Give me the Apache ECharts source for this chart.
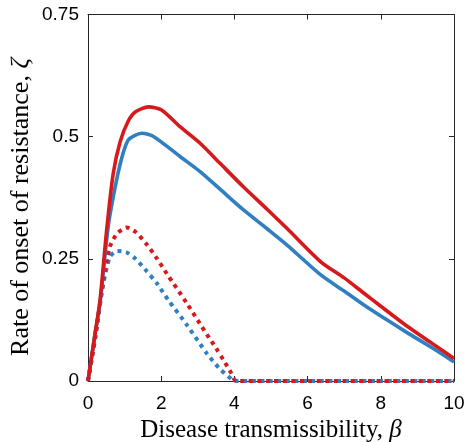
<!DOCTYPE html>
<html>
<head>
<meta charset="utf-8">
<script src="https://cdn.jsdelivr.net/npm/echarts@6/dist/echarts.min.js"></script>
<style>
	html, body {margin: 0; padding: 0; background: #fff;}
	#chart {width: 468px; height: 442px;}
</style>
</head>
<body>
<div id="chart"></div>
<script>
// values
var redSolidX = [0, 0.2, 0.33, 0.51, 0.69, 0.88, 1.1, 1.3, 1.65, 2.0, 2.52, 3.07, 3.6, 4.25, 4.9, 5.44, 6.36, 7.0, 7.55, 8.0, 8.74, 9.4, 10];
var redSolidY = [0, 0.1, 0.166, 0.309, 0.425, 0.49, 0.532, 0.551, 0.561, 0.555, 0.52, 0.486, 0.446, 0.397, 0.351, 0.312, 0.244, 0.211, 0.179, 0.153, 0.111, 0.077, 0.046];

var blueSolidX = [0, 0.2, 0.33, 0.51, 0.6, 0.86, 1.1, 1.47, 1.8, 2.52, 3.07, 3.6, 4.25, 4.9, 5.44, 6.36, 7.0, 7.55, 8.0, 8.74, 9.4, 10];
var blueSolidY = [0, 0.1, 0.16, 0.29, 0.34, 0.438, 0.493, 0.507, 0.5, 0.459, 0.428, 0.393, 0.35, 0.311, 0.278, 0.217, 0.184, 0.155, 0.133, 0.098, 0.068, 0.039];

var redDotX = [0, 0.2, 0.42, 0.6, 0.8, 1.06, 1.3, 1.6, 1.88, 2.15, 2.7, 3.0, 3.25, 3.5, 3.7, 3.9, 4.05, 5, 6, 7, 8, 9, 10];
var redDotY = [0, 0.09, 0.207, 0.275, 0.302, 0.314, 0.305, 0.28, 0.251, 0.22, 0.159, 0.124, 0.095, 0.067, 0.043, 0.018, 0, 0, 0, 0, 0, 0, 0];

var blueDotX = [0, 0.2, 0.42, 0.6, 0.8, 1.06, 1.3, 1.6, 1.88, 2.2, 2.7, 3.25, 3.6, 3.95, 4.0, 5, 6, 7, 8, 9, 10];
var blueDotY = [0, 0.09, 0.2, 0.254, 0.266, 0.263, 0.25, 0.225, 0.2, 0.165, 0.115, 0.056, 0.025, 0.002, 0, 0, 0, 0, 0, 0, 0];

var yTickLabels = {'0': '0', '0.25': '0.25', '0.5': '0.5', '0.75': '0.75'};

var RED = '#d7191c';
var BLUE = '#2f7fc1';
var AXIS = '#262626';

function pairs(xs, ys){
	var out = [];
	for (var i=0; i<xs.length; i++){
		out.push([xs[i], ys[i]]);
	}
	return out;
}

function line(xs, ys, color, dotted){
	return {
		type: 'line',
		data: pairs(xs, ys),
		showSymbol: false,
		smooth: 0.25,
		silent: true,
		lineStyle: {
			color: color,
			width: dotted ? 4 : 3.6,
			type: dotted ? [4, 4.5] : 'solid',
			cap: 'butt'
		}
	};
}

var chart = echarts.init(document.getElementById('chart'), null, {renderer: 'canvas'});

var tickStyle = {show: true, inside: true, length: 5, lineStyle: {color: AXIS, width: 1}};
var lineStyleAxis = {show: true, onZero: false, lineStyle: {color: AXIS, width: 1}};
function titleRich(size){
	return {
		a: {fontFamily: 'Liberation Serif', fontSize: size, fill: '#000', color: '#000'},
		b: {fontFamily: 'Liberation Serif', fontStyle: 'italic', fontSize: size, fill: '#000', color: '#000'}
	};
}

var option = {
	animation: false,
	grid: {left: 88, right: 14, top: 14.5, bottom: 61, containLabel: false, outerBoundsMode: 'none'},
	// y axis title drawn as a rotated text
	graphic: [{
		type: 'text',
		x: 21, y: 207,
		rotation: Math.PI / 2,
		silent: true,
		style: {
			text: '{a|Rate of onset of resistance, }{b|ζ}',
			rich: titleRich(26),
			align: 'center',
			verticalAlign: 'middle'
		}
	}],
	xAxis: [
		{
			type: 'value', min: 0, max: 10, interval: 2,
			axisLine: lineStyleAxis, axisTick: tickStyle, splitLine: {show: false},
			axisLabel: {color: '#000', fontFamily: 'Liberation Sans', fontSize: 19, margin: 13},
			name: '{a|Disease transmissibility, }{b|β}',
			nameLocation: 'middle', nameGap: 48,
			nameTextStyle: {rich: titleRich(25), align: 'center', verticalAlign: 'middle'}
		},
		{
			type: 'value', min: 0, max: 10, interval: 2, position: 'top',
			axisLine: lineStyleAxis, axisTick: tickStyle, splitLine: {show: false},
			axisLabel: {show: false}
		}
	],
	yAxis: [
		{
			type: 'value', min: 0, max: 0.75, interval: 0.25,
			axisLine: lineStyleAxis, axisTick: tickStyle, splitLine: {show: false},
			axisLabel: {
				color: '#000', fontFamily: 'Liberation Sans', fontSize: 19, margin: 9,
				formatter: function(v){ return yTickLabels[String(v)] || String(v); }
			}
		},
		{
			type: 'value', min: 0, max: 0.75, interval: 0.25, position: 'right',
			axisLine: lineStyleAxis, axisTick: tickStyle, splitLine: {show: false},
			axisLabel: {show: false}
		}
	],
	series: [
		line(blueDotX, blueDotY, BLUE, true),
		line(redDotX, redDotY, RED, true),
		line(blueSolidX, blueSolidY, BLUE, false),
		line(redSolidX, redSolidY, RED, false)
	]
};
chart.setOption(option);
</script>
</body>
</html>
